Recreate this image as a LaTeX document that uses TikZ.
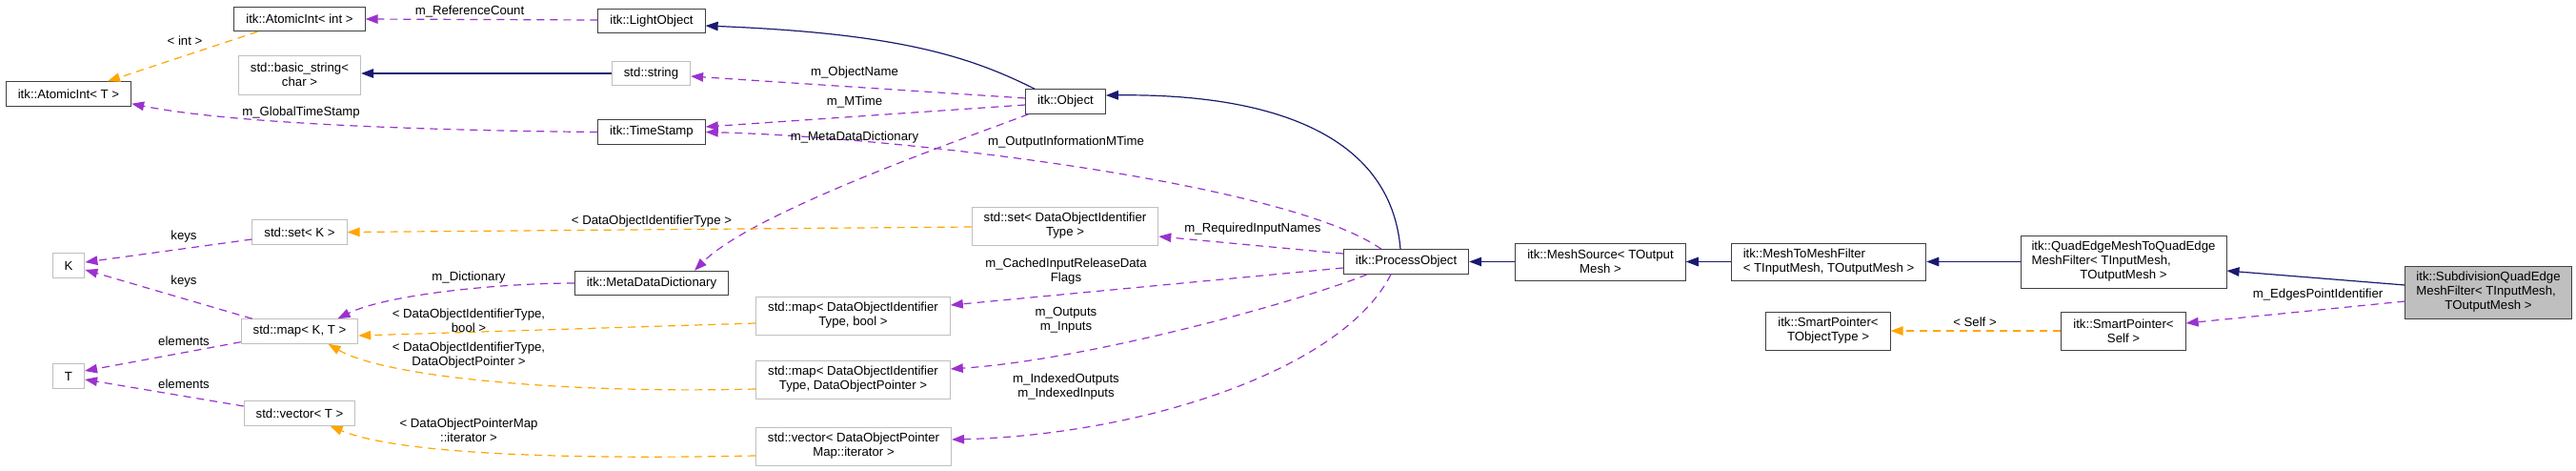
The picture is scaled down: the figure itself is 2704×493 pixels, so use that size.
\documentclass[tikz,border=0pt]{standalone}
\usepackage{fontspec}
\setmainfont{Liberation Sans}
\usetikzlibrary{arrows.meta}

\definecolor{midnight}{HTML}{191970}
\definecolor{orchid}{HTML}{9A32CD}
\definecolor{tmplorange}{HTML}{FFA500}
\definecolor{docgray}{HTML}{BFBFBF}

\begin{document}
\begin{tikzpicture}[x=1pt, y=-1pt,
    every node/.style={font=\fontsize{13.2}{15}\selectfont},
    cls/.style={draw=black!75, line width=1pt, fill=white, inner xsep=12.5pt, inner ysep=3pt, minimum height=25.5pt, align=center},
    extcls/.style={cls, draw=docgray},
    inh/.style={midnight, line width=1.2pt, -{Triangle[length=13pt,width=9.5pt]}},
    member/.style={orchid, line width=1.2pt, dash pattern=on 8pt off 6pt, -{Triangle[length=13pt,width=9.5pt]}},
    tmpl/.style={member, tmplorange},
    lbl/.style={inner sep=0pt, align=center}]

    \useasboundingbox[fill=white] (0,0) rectangle (2704,493);

    % 左侧的模板参数和基础类
    \node[cls] (aiint) at (314.5,20) {itk::AtomicInt< int >};
    \node[cls] (ait) at (72,98.5) {itk::AtomicInt< T >};
    \node[extcls, minimum height=41pt] (bstr) at (314.5,78.5) {std::basic\_string<\\char >};
    \node[extcls] (setk) at (314.5,243.5) {std::set< K >};
    \node[extcls] (K) at (72,278.5) {K};
    \node[extcls] (mapkt) at (314.5,347.5) {std::map< K, T >};
    \node[extcls] (T) at (72,394.5) {T};
    \node[extcls] (vect) at (314.5,433.5) {std::vector< T >};

    % 中间一列
    \node[cls] (light) at (684,22) {itk::LightObject};
    \node[extcls] (str) at (683.5,77) {std::string};
    \node[cls] (tstamp) at (684,138.5) {itk::TimeStamp};
    \node[cls] (mdd) at (684,297) {itk::MetaDataDictionary};
    \node[cls] (obj) at (1118.5,106.5) {itk::Object};
    \node[extcls, minimum height=40pt] (setdoit) at (1118,237) {std::set< DataObjectIdentifier\\Type >};
    \node[extcls, minimum height=40pt] (mapbool) at (895.5,331) {std::map< DataObjectIdentifier\\Type, bool >};
    \node[extcls, minimum height=40pt] (mapdop) at (895.5,398) {std::map< DataObjectIdentifier\\Type, DataObjectPointer >};
    \node[extcls, minimum height=40pt] (vecdop) at (896,468) {std::vector< DataObjectPointer\\Map::iterator >};

    % 右侧的继承链
    \node[cls] (po) at (1476,274.5) {itk::ProcessObject};
    \node[cls, minimum height=39pt] (msrc) at (1680,274.5) {itk::MeshSource< TOutput\\Mesh >};
    \node[cls, minimum height=39pt, align=left] (m2m) at (1919.5,274.5) {itk::MeshToMeshFilter\\< TInputMesh, TOutputMesh >};
    \node[cls, minimum height=55pt, inner xsep=11.5pt] (qem) at (2229,274.5) {\begin{tabular}{@{}l@{}}itk::QuadEdgeMeshToQuadEdge\\MeshFilter< TInputMesh,\\\multicolumn{1}{@{}c@{}}{TOutputMesh >}\end{tabular}};
    \node[cls, fill=docgray, minimum height=55pt, inner xsep=11.5pt] (sub) at (2612,306.5) {\begin{tabular}{@{}l@{}}itk::SubdivisionQuadEdge\\MeshFilter< TInputMesh,\\\multicolumn{1}{@{}c@{}}{TOutputMesh >}\end{tabular}};
    \node[cls, minimum height=40pt] (spobj) at (1919,347) {itk::SmartPointer<\\TObjectType >};
    \node[cls, minimum height=40pt] (spself) at (2229,347) {itk::SmartPointer<\\Self >};

    % 继承 (实线)
    \draw[inh] ([xshift=10pt]obj.north west) .. controls +(-70,-35) and +(200,8) .. ([yshift=-5pt]light.east);
    \draw[inh] (str.west) -- (bstr.east |- str.west);
    \draw[inh] ([xshift=-6pt]po.north) .. controls +(-10,-122) and +(170,-2) .. ([yshift=6.5pt]obj.east);
    \draw[inh] (msrc.west) -- (po.east);
    \draw[inh] (m2m.west) -- (msrc.east);
    \draw[inh] (qem.west) -- (m2m.east);
    \draw[inh] ([yshift=7.5pt]sub.west) -- ([yshift=-9.5pt]qem.east);

    % 成员 (紫色虚线)
    \draw[member] ([yshift=1pt]light.west) -- (aiint.east);
    \draw[member] (tstamp.west) .. controls +(-200,-2) and +(100,20) .. ([yshift=3pt]ait.south east);
    \draw[member] ([yshift=3.5pt]obj.west) -- ([yshift=-3pt]str.east);
    \draw[member] ([yshift=-3.5pt]obj.west) -- ([yshift=5.5pt]tstamp.east);
    \draw[member] ([xshift=-26pt]po.north) .. controls +(-100,-70) and +(200,5) .. (tstamp.east);
    \draw[member] ([xshift=3.5pt]obj.south west) .. controls +(-80,30) and +(60,-60) .. ([xshift=45pt]mdd.north);
    \draw[member] (mdd.west) .. controls +(-80,0) and +(50,-25) .. ([xshift=40pt]mapkt.north);
    \draw[member] ([yshift=-7.5pt]setk.west) -- ([yshift=3.5pt]K.east);
    \draw[member] ([xshift=12pt]mapkt.north west) -- ([yshift=-4.5pt]K.east);
    \draw[member] ([yshift=2pt]mapkt.south west) -- ([yshift=5.5pt]T.east);
    \draw[member] ([yshift=7.5pt]vect.west) -- ([yshift=-3.5pt]T.east);
    \draw[member] ([yshift=8.5pt]po.west) -- ([yshift=-11pt]setdoit.east);
    \draw[member] ([yshift=-6.5pt]po.west) -- ([yshift=11pt]mapbool.east);
    \draw[member] ([xshift=-41pt]po.south) .. controls +(-60,25) and +(150,-10) .. ([yshift=11pt]mapdop.east);
    \draw[member] ([xshift=-16pt]po.south) .. controls +(-50,100) and +(200,-5) .. ([yshift=7pt]vecdop.east);
    \draw[member] ([yshift=-9.5pt]sub.west) -- ([yshift=8pt]spself.east);

    % 模板实例化 (橙色虚线)
    \draw[tmpl] ([xshift=25pt]aiint.south west) -- ([xshift=41pt]ait.north);
    \draw[tmpl] ([yshift=-1pt]setdoit.west) -- (setk.east);
    \draw[tmpl] ([yshift=-8pt]mapbool.west) -- ([yshift=-4.5pt]mapkt.east);
    \draw[tmpl] ([yshift=-10pt]mapdop.west) .. controls +(-200,5) and +(60,35) .. ([xshift=30pt]mapkt.south);
    \draw[tmpl] ([yshift=-10pt]vecdop.west) .. controls +(-250,5) and +(60,25) .. ([xshift=32pt]vect.south);
    \draw[tmpl] (spself.west) -- (spobj.east);

    % 连线上的文字
    \node[lbl] (lref) at (493,12) {m\_ReferenceCount};
    \node[lbl] (lint) at (194,43) {< int >};
    \node[lbl] (lglob) at (316,118) {m\_GlobalTimeStamp};
    \node[lbl] (lname) at (897,76) {m\_ObjectName};
    \node[lbl] (lmtime) at (897,107) {m\_MTime};
    \node[lbl] (lmdd) at (897,144) {m\_MetaDataDictionary};
    \node[lbl] (loutinfo) at (1119,149) {m\_OutputInformationMTime};
    \node[lbl] (ldoit) at (684,232) {< DataObjectIdentifierType >};
    \node[lbl] (lreq) at (1315,240) {m\_RequiredInputNames};
    \node[lbl] (lkeysa) at (193,248) {keys};
    \node[lbl] (lkeysb) at (193,295) {keys};
    \node[lbl] (ldict) at (492,291) {m\_Dictionary};
    \node[lbl] (lbool) at (492,336) {< DataObjectIdentifierType,\\bool >};
    \node[lbl] (ldop) at (492,372.5) {< DataObjectIdentifierType,\\DataObjectPointer >};
    \node[lbl] (lelema) at (193,358) {elements};
    \node[lbl] (lelemb) at (193,403) {elements};
    \node[lbl] (liter) at (492,451.5) {< DataObjectPointerMap\\::iterator >};
    \node[lbl] (lcache) at (1119,284.5) {m\_CachedInputReleaseData\\Flags};
    \node[lbl] (lio) at (1119,335.5) {m\_Outputs\\m\_Inputs};
    \node[lbl] (lidx) at (1119,405.5) {m\_IndexedOutputs\\m\_IndexedInputs};
    \node[lbl] (lself) at (2073,338) {< Self >};
    \node[lbl] (ledges) at (2433,309) {m\_EdgesPointIdentifier};

\end{tikzpicture}
\end{document}
